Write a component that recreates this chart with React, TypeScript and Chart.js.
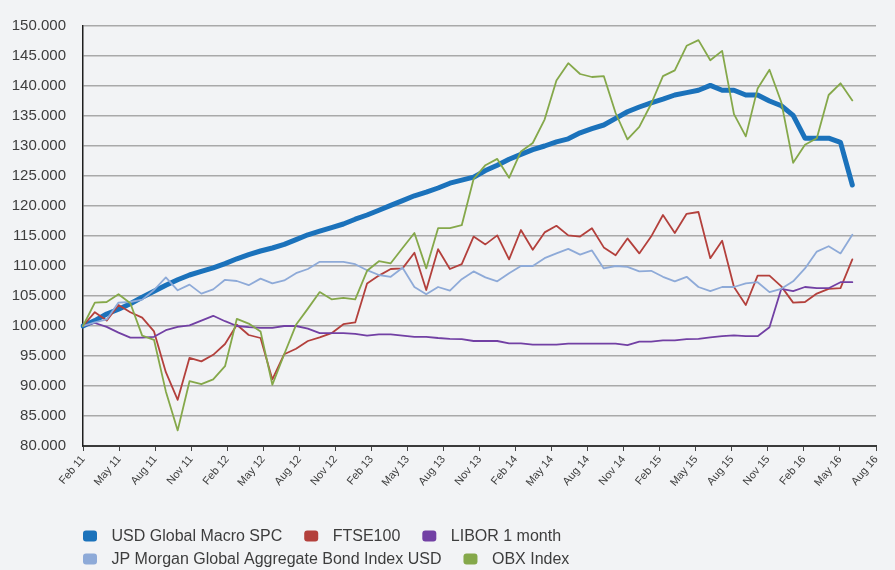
import React, { useEffect, useRef } from 'react';
import { Chart, registerables } from 'chart.js';

Chart.register(...registerables);

// Tick labels shown under the x axis (quarterly)
const AXIS_LABELS = [
  'Feb 11', 'May 11', 'Aug 11', 'Nov 11', 'Feb 12', 'May 12', 'Aug 12', 'Nov 12',
  'Feb 13', 'May 13', 'Aug 13', 'Nov 13', 'Feb 14', 'May 14', 'Aug 14', 'Nov 14',
  'Feb 15', 'May 15', 'Aug 15', 'Nov 15', 'Feb 16', 'May 16', 'Aug 16',
];

// Y axis
const Y_MIN = 80;
const Y_MAX = 150;
const Y_STEP = 5;

// Series (indexed to 100)
const USD_GLOBAL_MACRO = [
  100.0, 100.9, 102.0, 102.8, 103.7, 104.8, 105.8, 106.8, 107.7, 108.5,
  109.1, 109.7, 110.4, 111.2, 111.9, 112.5, 113.0, 113.6, 114.4, 115.2,
  115.8, 116.4, 117.0, 117.8, 118.5, 119.3, 120.1, 120.9, 121.7, 122.3,
  123.0, 123.8, 124.3, 124.8, 125.9, 126.8, 127.8, 128.6, 129.4, 130.0,
  130.7, 131.2, 132.2, 132.9, 133.5, 134.6, 135.7, 136.5, 137.2, 137.8,
  138.5, 138.9, 139.3, 140.1, 139.3, 139.3, 138.5, 138.5, 137.5, 136.7,
  135.1, 131.3, 131.3, 131.3, 130.6, 123.5,
];

const FTSE100 = [
  100.0, 102.3, 100.9, 103.5, 102.3, 101.4, 99.1, 92.3, 87.7, 94.7,
  94.1, 95.2, 97.0, 100.2, 98.5, 98.0, 91.1, 95.3, 96.2, 97.5,
  98.1, 98.8, 100.3, 100.6, 107.1, 108.4, 109.5, 109.6, 112.2, 106.0,
  112.8, 109.5, 110.3, 114.9, 113.6, 115.1, 111.1, 116.0, 112.7, 115.6,
  116.7, 115.1, 114.9, 116.3, 113.1, 111.8, 114.6, 112.1, 114.9, 118.5,
  115.5, 118.7, 119.0, 111.3, 114.2, 106.5, 103.5, 108.4, 108.4, 106.6,
  103.9, 104.0, 105.4, 106.2, 106.3, 111.1,
];

const LIBOR_1M = [
  100.0, 100.5, 99.85, 98.9, 98.05, 98.05, 98.2, 99.3, 99.85, 100.1,
  100.9, 101.7, 100.8, 100.0, 99.8, 99.7, 99.7, 100.0, 100.0, 99.55,
  98.8, 98.8, 98.8, 98.7, 98.4, 98.6, 98.6, 98.4, 98.2, 98.2,
  98.0, 97.85, 97.8, 97.5, 97.5, 97.5, 97.1, 97.1, 96.9, 96.9,
  96.9, 97.05, 97.05, 97.05, 97.05, 97.05, 96.8, 97.4, 97.4, 97.6,
  97.6, 97.8, 97.85, 98.1, 98.3, 98.45, 98.3, 98.3, 99.8, 106.2,
  105.8, 106.5, 106.3, 106.3, 107.3, 107.3,
];

const JPM_AGG_BOND = [
  100.0, 100.6, 101.1, 103.9, 104.0, 104.4, 106.0, 108.1, 105.95, 106.9,
  105.4, 106.1, 107.7, 107.5, 106.8, 107.9, 107.1, 107.6, 108.8, 109.5,
  110.7, 110.7, 110.7, 110.3, 109.3, 108.5, 108.2, 109.7, 106.5, 105.3,
  106.5, 105.9, 107.8, 109.1, 108.1, 107.45, 108.8, 110.0, 110.0, 111.3,
  112.1, 112.85, 111.9, 112.6, 109.6, 110.0, 109.85, 109.1, 109.2, 108.2,
  107.45, 108.2, 106.5, 105.8, 106.5, 106.5, 107.1, 107.3, 105.65, 106.2,
  107.45, 109.6, 112.4, 113.3, 112.1, 115.2,
];

const OBX_INDEX = [
  100.0, 103.9, 104.0, 105.3, 103.8, 98.4, 97.7, 89.1, 82.6, 90.8,
  90.3, 91.1, 93.3, 101.2, 100.4, 99.1, 90.2, 95.3, 100.2, 102.9,
  105.65, 104.45, 104.7, 104.45, 109.2, 110.8, 110.45, 113.0, 115.5, 109.6,
  116.3, 116.3, 116.8, 124.5, 126.8, 127.85, 124.7, 129.1, 130.5, 134.4,
  140.9, 143.8, 142.0, 141.5, 141.65, 135.5, 131.1, 133.2, 137.0, 141.65,
  142.6, 146.7, 147.65, 144.3, 145.85, 135.3, 131.6, 139.6, 142.7, 137.3,
  127.2, 130.2, 131.3, 138.5, 140.45, 137.6,
];

const SERIES_NAMES = [
  'USD Global Macro SPC',
  'FTSE100',
  'LIBOR 1 month',
  'JP Morgan Global Aggregate Bond Index USD',
  'OBX Index',
];

const COLORS = ['#1b72bb', '#b3403c', '#7240a4', '#8eaad8', '#85a84a'];

// observation periods (monthly) for the data axis, extended past the last observation
const MONTH_NAMES = ['Jan', 'Feb', 'Mar', 'Apr', 'May', 'Jun', 'Jul', 'Aug', 'Sep', 'Oct', 'Nov', 'Dec'];
const PERIOD_COUNT = 68;
const PERIODS: string[] = [];
for (let k = 0; k < PERIOD_COUNT; k++) {
  const m = (1 + k) % 12;
  const y = 11 + Math.floor((1 + k) / 12);
  PERIODS.push(MONTH_NAMES[m] + ' ' + y);
}

const FONT_FAMILY = '"Liberation Sans", Arial, Helvetica, sans-serif';
const TEXT_COLOR = '#3d3d3d';
const BG = '#f2f3f5';

const bgPlugin = {
  id: 'bgFill',
  beforeDraw(chart: any) {
    const { ctx, width, height } = chart;
    ctx.save();
    ctx.fillStyle = BG;
    ctx.fillRect(0, 0, width, height);
    ctx.restore();
  },
};

const legendPlugin = {
  id: 'bottomLegend',
  afterDraw(chart: any) {
    const { ctx, chartArea } = chart;
    ctx.save();
    ctx.font = '16px ' + FONT_FAMILY;
    ctx.textBaseline = 'middle';
    ctx.textAlign = 'left';
    let x = chartArea.left;
    let row = 0;
    chart.data.datasets.forEach((ds: any) => {
      const tw = ctx.measureText(ds.label).width;
      const w = 28.5 + tw;
      if (x > chartArea.left && x + w > chartArea.right) {
        row += 1;
        x = chartArea.left;
      }
      const y = chartArea.bottom + 90 + row * 23;
      ctx.fillStyle = ds.borderColor;
      ctx.beginPath();
      if (typeof ctx.roundRect === 'function') {
        ctx.roundRect(x, y - 5.5, 14, 11, 3);
      } else {
        ctx.rect(x, y - 5.5, 14, 11);
      }
      ctx.fill();
      ctx.fillStyle = TEXT_COLOR;
      ctx.fillText(ds.label, x + 28.5, y + 0.5);
      x += w + 22;
    });
    ctx.restore();
  },
};

export default function App() {
  const canvasRef = useRef<HTMLCanvasElement | null>(null);

  useEffect(() => {
    document.body.style.margin = '0';
    document.body.style.background = BG;
    const canvas = canvasRef.current;
    if (!canvas) return;

    const seriesData = [USD_GLOBAL_MACRO, FTSE100, LIBOR_1M, JPM_AGG_BOND, OBX_INDEX];
    const datasets = seriesData.map((d, i) => ({
      label: SERIES_NAMES[i],
      data: d,
      borderColor: COLORS[i],
      backgroundColor: COLORS[i],
      borderWidth: i === 0 ? 5 : 1.8,
      borderCapStyle: 'round' as const,
      borderJoinStyle: 'round' as const,
      pointRadius: 0,
      pointHoverRadius: 0,
      tension: 0,
      fill: false,
      order: seriesData.length - i,
      xAxisID: 'x',
      yAxisID: 'y',
    }));

    const chart = new Chart(canvas, {
      type: 'line',
      data: { labels: PERIODS, datasets },
      options: {
        animation: false,
        responsive: false,
        devicePixelRatio: 1,
        layout: { padding: { left: 0, right: 19, top: 17, bottom: 60 } },
        plugins: {
          legend: { display: false },
          tooltip: { enabled: false },
        },
        scales: {
          x: {
            type: 'category',
            display: false,
            offset: false,
          },
          xAxis: {
            type: 'category',
            axis: 'x',
            labels: AXIS_LABELS,
            position: 'bottom',
            offset: false,
            grid: {
              display: true,
              drawOnChartArea: false,
              drawTicks: true,
              tickLength: 5,
              color: '#444444',
              lineWidth: 1,
            },
            border: { display: true, color: '#3a3a3a', width: 2 },
            ticks: {
              autoSkip: false,
              minRotation: 50,
              maxRotation: 50,
              padding: 2,
              color: TEXT_COLOR,
              font: { family: FONT_FAMILY, size: 11 },
            },
            afterFit: (scale: any) => {
              scale.height = 64;
            },
          } as any,
          y: {
            type: 'linear',
            min: Y_MIN,
            max: Y_MAX,
            ticks: {
              stepSize: Y_STEP,
              padding: 17,
              color: TEXT_COLOR,
              font: { family: FONT_FAMILY, size: 15 },
              callback: (v: any) => Number(v).toFixed(3),
            },
            grid: { color: '#a9a9a9', lineWidth: 1.5, drawTicks: false },
            border: { display: true, color: '#1e1e1e', width: 1.5 },
            afterFit: (scale: any) => {
              scale.width = 83;
            },
          },
        },
      },
      plugins: [bgPlugin, legendPlugin],
    });

    return () => {
      chart.destroy();
    };
  }, []);

  return (
    <div style={{ width: 895, height: 570, background: BG }}>
      <canvas ref={canvasRef} width={895} height={570} style={{ display: 'block' }} />
    </div>
  );
}
